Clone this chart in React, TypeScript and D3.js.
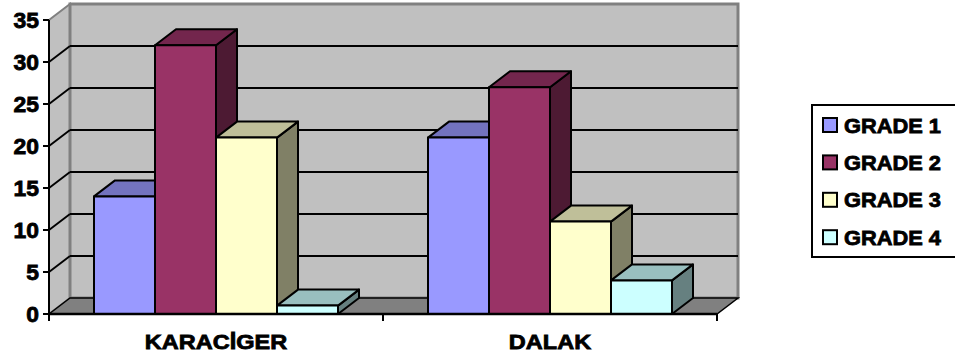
import React from "react";
import * as d3 from "d3";

const categories = ["KARACİGER", "DALAK"];
const series = ["GRADE 1", "GRADE 2", "GRADE 3", "GRADE 4"];
const grade1 = [14, 21];
const grade2 = [32, 27];
const grade3 = [21, 11];
const grade4 = [1, 4];
const yTicks = [0, 5, 10, 15, 20, 25, 30, 35];
const colors = ["#9999FF", "#993366", "#FFFFCC", "#CCFFFF"];

const values = [grade1, grade2, grade3, grade4];

const W = 955, H = 356;
const X0 = 49, X1 = 717;
const Y0 = 314, YT = 20;
const DX = 21, DY = -16;
const FONT = "'Liberation Sans', Arial, sans-serif";

function shade(c: string, k: number) {
  const r = d3.rgb(c);
  return d3.rgb(r.r * k, r.g * k, r.b * k).formatHex();
}

export default function App() {
  const y = d3.scaleLinear().domain([0, 35]).range([Y0, YT]);
  const xCat = d3.scaleBand<string>().domain(categories).range([X0, X1]).paddingInner(0).paddingOuter(0);
  const bw = xCat.bandwidth();
  const inner = d3.scaleBand<string>().domain(series).range([45, bw - 45]).padding(0);
  const w = inner.bandwidth();

  const pts = (a: [number, number][]) => a.map((p) => p.join(",")).join(" ");

  const bars: JSX.Element[] = [];
  categories.forEach((cat, ci) => {
    series.forEach((s, si) => {
      const v = values[si][ci];
      const x = (xCat(cat) as number) + (inner(s) as number);
      const yt = y(v);
      const c = colors[si];
      bars.push(
        <g key={cat + s} stroke="#000" strokeWidth={2} strokeLinejoin="round">
          <polygon fill={shade(c, 0.5)} points={pts([[x + w, Y0], [x + w + DX, Y0 + DY], [x + w + DX, yt + DY], [x + w, yt]])} />
          <polygon fill={shade(c, 0.75)} points={pts([[x, yt], [x + DX, yt + DY], [x + w + DX, yt + DY], [x + w, yt]])} />
          <rect x={x} y={yt} width={w} height={Y0 - yt} fill={c} />
        </g>
      );
    });
  });

  const txt = { fontFamily: FONT, fontWeight: "bold" as const, fill: "#000", stroke: "#000", strokeWidth: 0.8 };

  return (
    <svg width={W} height={H} style={{ position: "absolute", left: 0, top: 0 }}>
      <rect x={0} y={0} width={W} height={H} fill="#fff" />
      {/* side wall */}
      <polygon points={pts([[X0, YT], [X0 + DX, YT + DY], [X0 + DX, Y0 + DY], [X0, Y0]])} fill="#C0C0C0" stroke="#808080" strokeWidth={2} />
      {/* back wall */}
      <rect x={X0 + DX} y={YT + DY} width={X1 - X0} height={Y0 - YT} fill="#C0C0C0" stroke="#808080" strokeWidth={3} />
      {/* gridlines */}
      {yTicks.filter((t) => t > 0 && t < 35).map((t) => (
        <g key={t} stroke="#000" strokeWidth={2}>
          <line x1={X0} y1={y(t)} x2={X0 + DX} y2={y(t) + DY} />
          <line x1={X0 + DX} y1={y(t) + DY} x2={X1 + DX} y2={y(t) + DY} />
        </g>
      ))}
      {/* floor */}
      <polygon points={pts([[X0, Y0], [X0 + DX, Y0 + DY], [X1 + DX, Y0 + DY], [X1, Y0]])} fill="#808080" stroke="#000" strokeWidth={1.5} />
      {bars}
      {/* axes */}
      <line x1={X0} y1={YT} x2={X0} y2={Y0 + 1} stroke="#000" strokeWidth={2} />
      <line x1={X0} y1={Y0} x2={X1} y2={Y0} stroke="#000" strokeWidth={2.5} />
      {yTicks.map((t) => (
        <g key={t}>
          <line x1={X0 - 6} y1={y(t)} x2={X0} y2={y(t)} stroke="#000" strokeWidth={2} />
          <text transform={`translate(${X0 - 10},${y(t) + 8}) scale(1.04,1)`} textAnchor="end" fontSize={22} {...txt}>{t}</text>
        </g>
      ))}
      {[X0, ...categories.map((c) => (xCat(c) as number) + bw)].map((x, i) => (
        <line key={i} x1={x} y1={Y0} x2={x} y2={Y0 + 7} stroke="#000" strokeWidth={2} />
      ))}
      {categories.map((c) => (
        <text key={c} transform={`translate(${(xCat(c) as number) + bw / 2},${348.5}) scale(1.12,1)`} textAnchor="middle" fontSize={21} {...txt}>{c}</text>
      ))}
      {/* legend */}
      <rect x={812} y={105} width={160} height={152} fill="#fff" stroke="#000" strokeWidth={2} />
      {series.map((s, i) => {
        const cy = 125 + i * 37.4;
        return (
          <g key={s}>
            <rect x={823} y={cy - 7} width={14} height={14} fill={colors[i]} stroke="#000" strokeWidth={2} />
            <text transform={`translate(844,${cy + 7.5}) scale(1.04,1)`} fontSize={21} {...txt}>{s}</text>
          </g>
        );
      })}
    </svg>
  );
}
